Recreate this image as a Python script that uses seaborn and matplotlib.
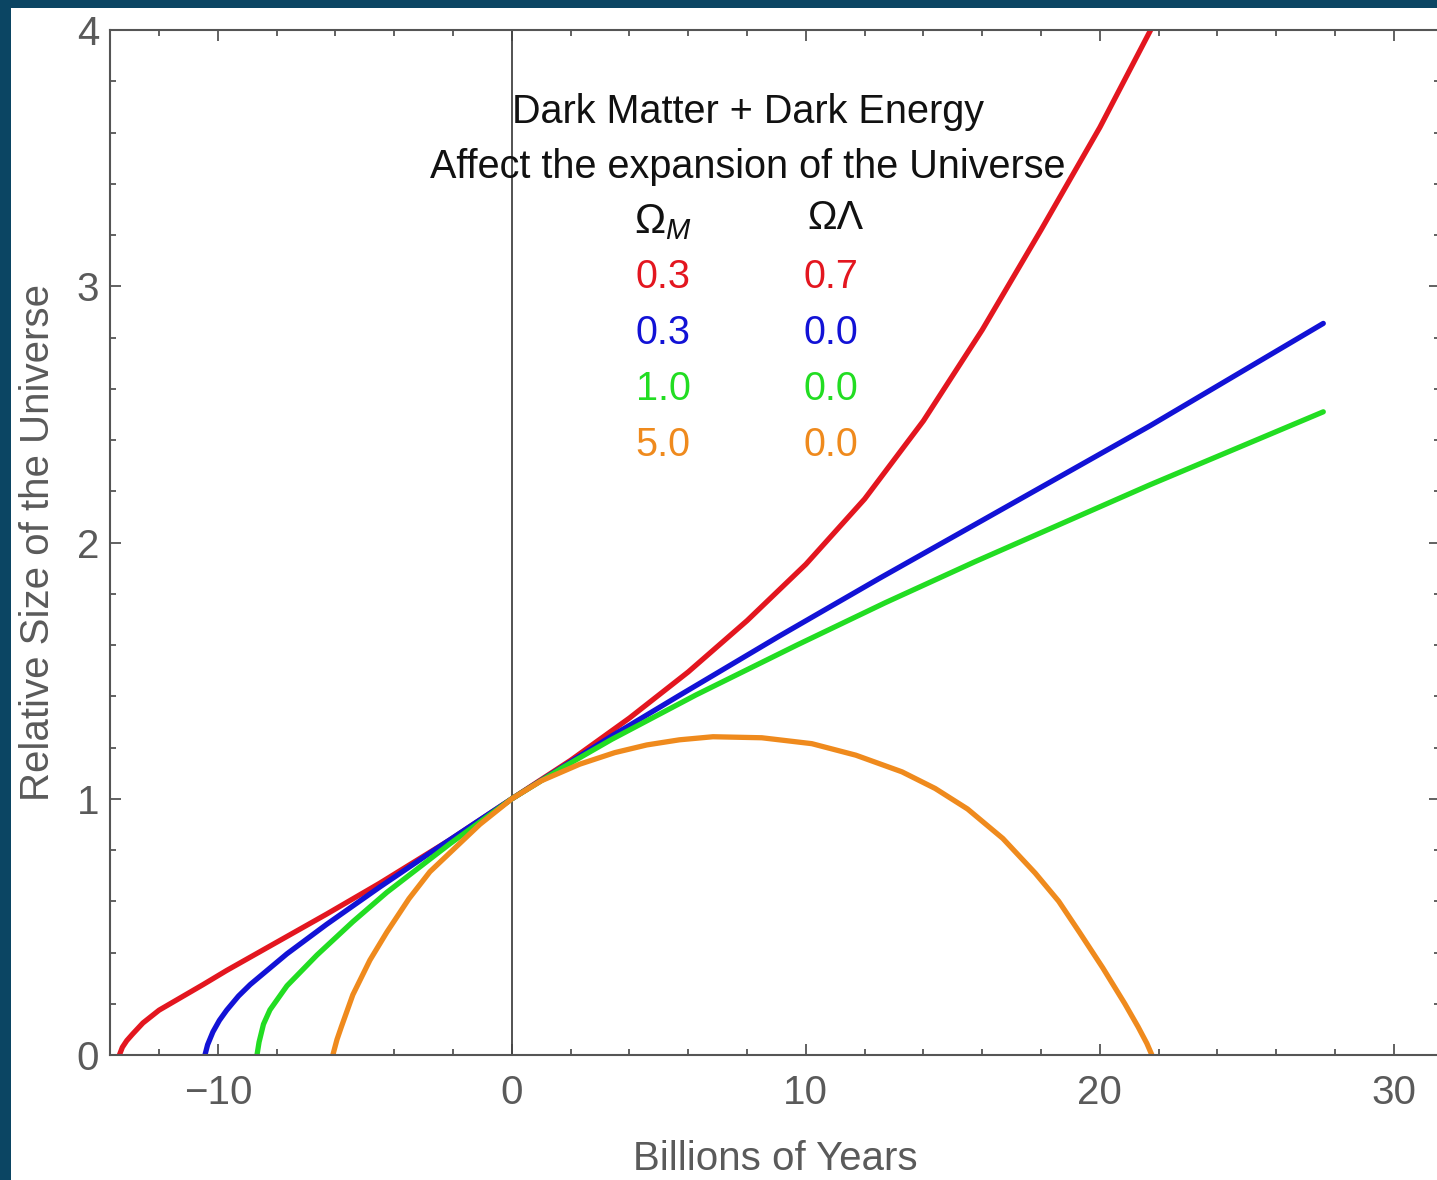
import matplotlib
matplotlib.use("Agg")
import matplotlib.pyplot as plt
from matplotlib.patches import Rectangle
from matplotlib.ticker import MultipleLocator
import seaborn as sns

# ---- data (Billions of years vs relative size) ----
red_x = [-13.35, -13.25, -13.1, -12.9, -12.55, -12.0, -11.4, -10.5, -9.7, -8.0, -6.3, -4.5,
         -2.1, 0.0, 2.0, 4.0, 6.0, 8.0, 10.0, 12.0, 14.0, 16.0, 18.0, 20.0, 22.0]
red_y = [0.0, 0.03, 0.056, 0.082, 0.125, 0.175, 0.215, 0.275, 0.33, 0.44, 0.55, 0.67,
         0.84, 1.0, 1.15, 1.315, 1.495, 1.695, 1.915, 2.17, 2.475, 2.83, 3.22, 3.62, 4.06]

blue_x = [-10.44, -10.35, -10.17, -9.95, -9.7, -9.3, -8.9, -7.65, -6.3, -4.5, -2.7, 0.0,
          3.4, 5.65, 9.1, 12.5, 15.75, 21.7, 27.6]
blue_y = [0.0, 0.04, 0.09, 0.135, 0.175, 0.23, 0.275, 0.395, 0.51, 0.655, 0.795, 1.0,
          1.245, 1.4, 1.635, 1.86, 2.07, 2.455, 2.855]

green_x = [-8.67, -8.6, -8.45, -8.23, -7.65, -6.63, -5.41, -4.25, -2.1, 0.0, 1.7, 3.4,
           6.26, 9.7, 12.7, 15.75, 21.7, 27.6]
green_y = [0.0, 0.05, 0.12, 0.176, 0.27, 0.39, 0.52, 0.635, 0.825, 1.0, 1.12, 1.232,
           1.405, 1.6, 1.765, 1.925, 2.225, 2.51]

orange_x = [-6.09, -5.95, -5.8, -5.41, -4.83, -4.25, -3.5, -2.79, -1.09, 0.0, 1.0, 2.31,
            3.5, 4.59, 5.7, 6.84, 8.5, 10.2, 11.7, 13.27, 14.4, 15.5, 16.7, 17.8, 18.6,
            19.3, 20.1, 20.85, 21.3, 21.6, 21.77]
orange_y = [0.0, 0.06, 0.11, 0.235, 0.37, 0.48, 0.61, 0.715, 0.9, 1.0, 1.07, 1.135,
            1.18, 1.21, 1.23, 1.242, 1.238, 1.215, 1.17, 1.105, 1.04, 0.96, 0.845, 0.71, 0.6,
            0.48, 0.34, 0.2, 0.11, 0.045, 0.0]

omega_m = ["0.3", "0.3", "1.0", "5.0"]
omega_l = ["0.7", "0.0", "0.0", "0.0"]
colors = ["#e3161f", "#1212d6", "#22dd22", "#ef8a1d"]
curves = [(red_x, red_y), (blue_x, blue_y), (green_x, green_y), (orange_x, orange_y)]

# ---- style ----
sns.set_style("ticks")
plt.rcParams["font.family"] = ["Liberation Sans", "DejaVu Sans"]
plt.rcParams["mathtext.fontset"] = "custom"
plt.rcParams["mathtext.rm"] = "Liberation Sans"
plt.rcParams["mathtext.it"] = "Liberation Sans:italic"

W, H = 1437, 1180
fig = plt.figure(figsize=(W / 100, H / 100), dpi=100)
fig.patch.set_facecolor("#0b4563")
# white card on top of the dark blue backdrop
fig.patches.append(Rectangle((11 / W, 0), 1 - 11 / W, 1 - 8 / H, transform=fig.transFigure,
                             facecolor="white", edgecolor="none", zorder=-10))

ax = fig.add_axes([110 / W, 125 / H, 1330 / W, 1025 / H])
ax.set_facecolor("white")

for (x, y), c in zip(curves, colors):
    sns.lineplot(x=x, y=y, color=c, linewidth=3.8, ax=ax, estimator=None, sort=False)

ax.axvline(0, color="#444444", linewidth=1.3, zorder=1)

ax.set_xlim(-13.67, 31.57)
ax.set_ylim(0, 4)

ax.xaxis.set_major_locator(MultipleLocator(10))
ax.xaxis.set_minor_locator(MultipleLocator(2))
ax.yaxis.set_major_locator(MultipleLocator(1))
ax.yaxis.set_minor_locator(MultipleLocator(0.2))
ax.tick_params(which="both", direction="in", top=True, right=True, color="#555555",
               labelcolor="#5a5a5a", labelsize=29, width=1.3)
ax.tick_params(which="major", length=8)
ax.tick_params(which="minor", length=4.5)
ax.tick_params(axis="x", pad=14)
ax.tick_params(axis="y", pad=8)
for s in ax.spines.values():
    s.set_color("#555555")
    s.set_linewidth(1.5)

ax.set_xlabel("Billions of Years", fontsize=29, color="#5a5a5a", labelpad=20)
ax.set_ylabel("Relative Size of the Universe", fontsize=29, color="#5a5a5a", labelpad=14)

# ---- annotation block ----
ax.text(8.03, 3.68, "Dark Matter + Dark Energy", fontsize=28.5, ha="center", va="center",
        color="#111111")
ax.text(8.03, 3.465, "Affect the expansion of the Universe", fontsize=28.5, ha="center",
        va="center", color="#111111")
ax.text(5.15, 3.25, r"$\Omega_M$", fontsize=30, ha="center", va="center", color="#111111")
ax.text(11.0, 3.265, "\u03a9\u039b", fontsize=28.5, ha="center", va="center", color="#111111")
row_y = [3.035, 2.816, 2.598, 2.379]
for m, l, c, yy in zip(omega_m, omega_l, colors, row_y):
    ax.text(5.15, yy, m, fontsize=28.5, ha="center", va="center", color=c)
    ax.text(10.85, yy, l, fontsize=28.5, ha="center", va="center", color=c)

fig.savefig("out.png", dpi=100, facecolor=fig.get_facecolor())
